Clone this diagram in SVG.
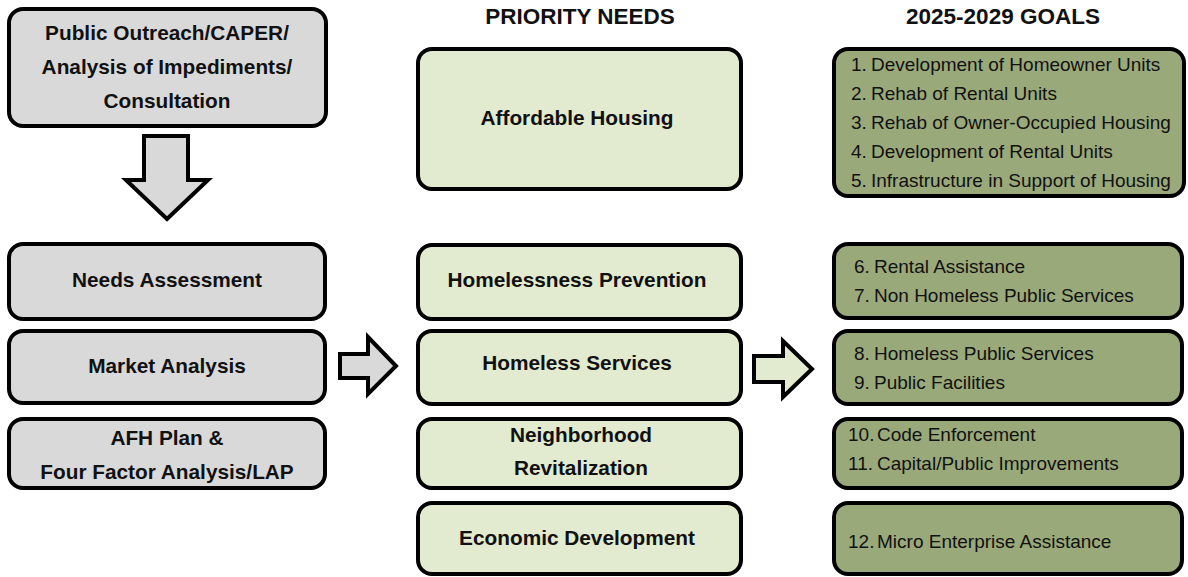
<svg xmlns="http://www.w3.org/2000/svg" width="1188" height="577" viewBox="0 0 1188 577">
<style>
.box{stroke:#000;stroke-width:4}
.gray{fill:#d9d9d9}
.lg{fill:#e2eacf}
.ol{fill:#9aa97a}
text{font-family:"Liberation Sans",Arial,sans-serif;fill:#111}
.b{font-weight:bold;font-size:20.8px;text-anchor:middle}
.h{font-weight:bold;font-size:22.5px;text-anchor:middle}
.g{font-size:19px}
.arrow{stroke:#000;stroke-width:4;stroke-linejoin:miter}
</style>
<rect width="1188" height="577" fill="#fff"/>
<text class="h" x="580" y="24">PRIORITY NEEDS</text>
<text class="h" x="1003" y="24">2025-2029 GOALS</text>

<g id="n-outreach">
<rect class="box gray" x="9" y="9" width="317" height="117" rx="14"/>
<text class="b" x="167" y="40">Public Outreach/CAPER/</text>
<text class="b" x="167" y="74">Analysis of Impediments/</text>
<text class="b" x="167" y="108">Consultation</text>
</g>
<g id="n-needs">
<rect class="box gray" x="9" y="244" width="316" height="75" rx="14"/>
<text class="b" x="167" y="287">Needs Assessment</text>
</g>
<g id="n-market">
<rect class="box gray" x="9" y="331" width="316" height="72" rx="14"/>
<text class="b" x="167" y="373">Market Analysis</text>
</g>
<g id="n-afh">
<rect class="box gray" x="9" y="419" width="316" height="69" rx="14"/>
<text class="b" x="167" y="445">AFH Plan &amp;</text>
<text class="b" x="167" y="479">Four Factor Analysis/LAP</text>
</g>

<g id="n-affordable">
<rect class="box lg" x="418" y="49" width="323" height="140" rx="14"/>
<text class="b" x="577" y="125">Affordable Housing</text>
</g>
<g id="n-prevention">
<rect class="box lg" x="418" y="245" width="323" height="74" rx="14"/>
<text class="b" x="577" y="287">Homelessness Prevention</text>
</g>
<g id="n-homeless">
<rect class="box lg" x="418" y="331" width="323" height="73" rx="14"/>
<text class="b" x="577" y="370">Homeless Services</text>
</g>
<g id="n-neighborhood">
<rect class="box lg" x="418" y="419" width="323" height="69" rx="14"/>
<text class="b" x="581" y="442">Neighborhood</text>
<text class="b" x="581" y="475">Revitalization</text>
</g>
<g id="n-economic">
<rect class="box lg" x="418" y="503" width="323" height="71" rx="14"/>
<text class="b" x="577" y="545">Economic Development</text>
</g>

<g id="n-goals1">
<rect class="box ol" x="834" y="49" width="350" height="147" rx="14"/>
<text class="g" y="71"><tspan x="851">1.</tspan><tspan x="871">Development of Homeowner Units</tspan></text>
<text class="g" y="100"><tspan x="851">2.</tspan><tspan x="871">Rehab of Rental Units</tspan></text>
<text class="g" y="129"><tspan x="851">3.</tspan><tspan x="871">Rehab of Owner-Occupied Housing</tspan></text>
<text class="g" y="158"><tspan x="851">4.</tspan><tspan x="871">Development of Rental Units</tspan></text>
<text class="g" y="187"><tspan x="851">5.</tspan><tspan x="871">Infrastructure in Support of Housing</tspan></text>
</g>
<g id="n-goals2">
<rect class="box ol" x="834" y="244" width="348" height="74" rx="14"/>
<text class="g" y="273"><tspan x="854">6.</tspan><tspan x="874">Rental Assistance</tspan></text>
<text class="g" y="302"><tspan x="854">7.</tspan><tspan x="874">Non Homeless Public Services</tspan></text>
</g>
<g id="n-goals3">
<rect class="box ol" x="834" y="331" width="348" height="73" rx="14"/>
<text class="g" y="360"><tspan x="854">8.</tspan><tspan x="874">Homeless Public Services</tspan></text>
<text class="g" y="389"><tspan x="854">9.</tspan><tspan x="874">Public Facilities</tspan></text>
</g>
<g id="n-goals4">
<rect class="box ol" x="834" y="419" width="348" height="69" rx="14"/>
<text class="g" y="441"><tspan x="848">10.</tspan><tspan x="877">Code Enforcement</tspan></text>
<text class="g" y="470"><tspan x="848">11.</tspan><tspan x="877">Capital/Public Improvements</tspan></text>
</g>
<g id="n-goals5">
<rect class="box ol" x="834" y="503" width="348" height="71" rx="14"/>
<text class="g" y="548"><tspan x="848">12.</tspan><tspan x="877">Micro Enterprise Assistance</tspan></text>
</g>

<g id="connectors">
<polygon class="arrow gray" points="144,136 188,136 188,180 208,180 167,219 126,180 144,180"/>
<polygon class="arrow gray" points="340,354 368,354 368,337 396,366 368,394 368,378 340,378"/>
<polygon class="arrow lg" points="754,356 783,356 783,341 812,369 783,397 783,382 754,382"/>
</g>
</svg>
